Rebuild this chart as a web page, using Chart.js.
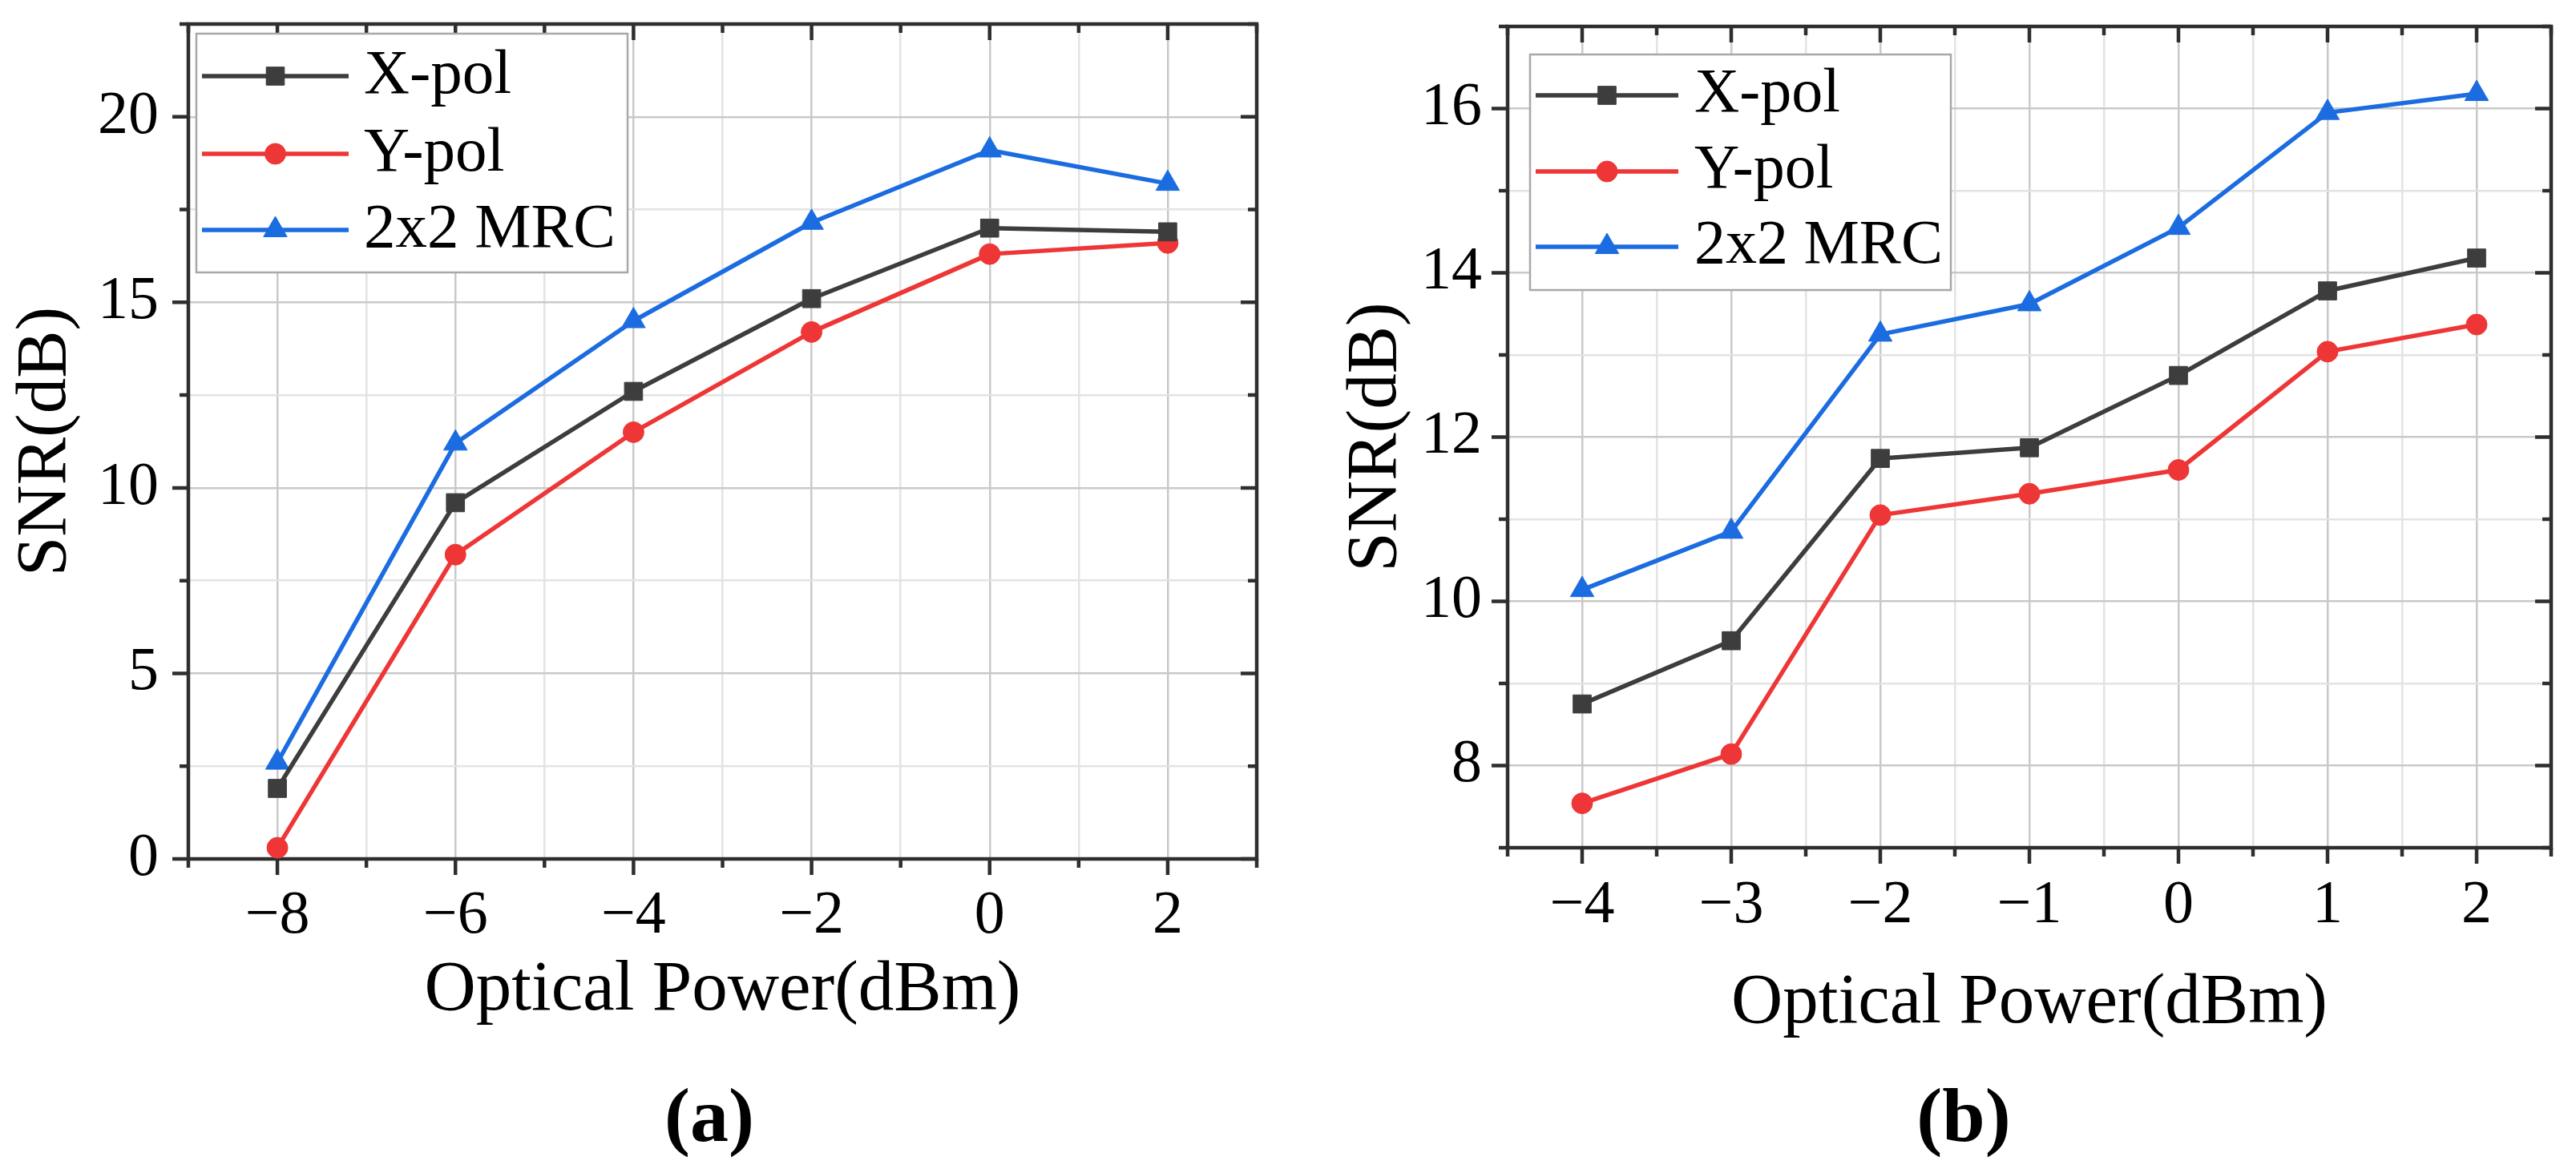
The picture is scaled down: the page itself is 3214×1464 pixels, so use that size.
<!DOCTYPE html>
<html><head><meta charset="utf-8">
<script src="https://cdn.jsdelivr.net/npm/chart.js@4.4.1/dist/chart.umd.min.js"></script>
<style>
html,body{margin:0;padding:0;background:#fff;width:3214px;height:1464px;overflow:hidden}
canvas{position:absolute;top:0}
#ca{left:0}
#cb{left:1607px}
</style></head><body>
<canvas id="ca" width="1607" height="1464"></canvas>
<canvas id="cb" width="1607" height="1464"></canvas>
<script>
// ---------------- data ----------------
const seriesNames = ['X-pol', 'Y-pol', '2x2 MRC'];
const xTitle = 'Optical Power(dBm)';
const yTitle = 'SNR(dB)';

// panel (a)
const powerA = [-8, -6, -4, -2, 0, 2];
const xpolA  = [1.9, 9.6, 12.6, 15.1, 17.0, 16.9];
const ypolA  = [0.3, 8.2, 11.5, 14.2, 16.3, 16.6];
const mrcA   = [2.6, 11.2, 14.5, 17.15, 19.1, 18.2];

// panel (b)
const powerB = [-4, -3, -2, -1, 0, 1, 2];
const xpolB  = [8.75, 9.52, 11.74, 11.87, 12.75, 13.78, 14.18];
const ypolB  = [7.54, 8.14, 11.05, 11.31, 11.6, 13.04, 13.37];
const mrcB   = [10.14, 10.85, 13.25, 13.62, 14.55, 15.95, 16.18];

// ---------------- styles ----------------
const FONT = "'Liberation Serif', 'Times New Roman', serif";
const COLORS = ['#3d3d3d', '#ee3636', '#1b6ce0'];
const STYLES = ['rect', 'circle', 'triangle'];
const RADII = [16, 13, 17];

const layoutA = {
  xMin: -9, xMax: 3, xStep: 1, xMajor: 2,
  yMin: 0, yMax: 22.5, yStep: 2.5, yMajor: 5,
  yAxisW: 235, xAxisH: 392, padTop: 30, padRight: 39,
  yTickPad: 37, xTickPad: 26, yTitlePad: 4.6, xTitlePad: 173.6,
  legend: {x0: 245, y0: 42, x1: 783, y1: 340, rows: [95, 192, 287], lineX0: 252, lineX1: 435, textX: 454, font: 79},
  label: '(a)', labelX: 885, labelY: 1424
};
const layoutB = {
  xMin: -4.5, xMax: 2.5, xStep: 0.5, xMajor: 1,
  yMin: 7, yMax: 17, yStep: 1, yMajor: 2,
  yAxisW: 274, xAxisH: 406, padTop: 33, padRight: 31,
  yTickPad: 32, xTickPad: 27, yTitlePad: 57, xTitlePad: 157.6,
  legend: {x0: 302, y0: 68, x1: 827, y1: 362, rows: [119, 214, 308], lineX0: 309, lineX1: 487, textX: 507, font: 78},
  label: '(b)', labelX: 843, labelY: 1424
};

function isMajor(v, step) {
  const r = v / step;
  return Math.abs(r - Math.round(r)) < 1e-6;
}
function fmt(v, step) {
  if (!isMajor(v, step)) return '';
  const n = Math.round(v * 100) / 100;
  return n < 0 ? '\u2212' + Math.abs(n) : String(n);
}
function gridColor(c, step) {
  if (!c.tick) return '#cccccc';
  return isMajor(c.tick.value, step) ? '#c9c9c9' : '#e3e3e3';
}

function drawMarker(ctx, style, r, x, y, color) {
  ctx.save();
  ctx.fillStyle = color; ctx.strokeStyle = color; ctx.lineWidth = 1;
  ctx.beginPath();
  if (style === 'rect') {
    const s = Math.SQRT1_2 * r;
    ctx.rect(x - s, y - s, 2 * s, 2 * s);
  } else if (style === 'circle') {
    ctx.arc(x, y, r, 0, Math.PI * 2);
  } else {
    let rad = 0;
    ctx.moveTo(x + Math.sin(rad) * r, y - Math.cos(rad) * r);
    rad += 2 * Math.PI / 3;
    ctx.lineTo(x + Math.sin(rad) * r, y - Math.cos(rad) * r);
    rad += 2 * Math.PI / 3;
    ctx.lineTo(x + Math.sin(rad) * r, y - Math.cos(rad) * r);
    ctx.closePath();
  }
  ctx.fill(); ctx.stroke();
  ctx.restore();
}

const framePlugin = {
  id: 'frame',
  beforeDatasetsDraw(chart) {
    const P = chart.options.plugins.frame;
    const {ctx, chartArea: a, scales: {x, y}} = chart;
    ctx.save();
    ctx.strokeStyle = '#2e2e2e';
    ctx.lineWidth = 4.5;
    ctx.beginPath();
    x.ticks.forEach(t => {
      const px = x.getPixelForValue(t.value);
      const len = isMajor(t.value, P.xMajor) ? 20 : 11;
      ctx.moveTo(px, a.bottom); ctx.lineTo(px, a.bottom + len);
      ctx.moveTo(px, a.top); ctx.lineTo(px, a.top + len);
    });
    y.ticks.forEach(t => {
      const py = y.getPixelForValue(t.value);
      const len = isMajor(t.value, P.yMajor) ? 20 : 11;
      ctx.moveTo(a.left, py); ctx.lineTo(a.left - len, py);
      ctx.moveTo(a.right, py); ctx.lineTo(a.right - len, py);
    });
    ctx.stroke();
    ctx.strokeRect(a.left, a.top, a.right - a.left, a.bottom - a.top);
    ctx.restore();
  },
  afterDatasetsDraw(chart) {
    const P = chart.options.plugins.frame;
    const L = P.legend;
    const {ctx} = chart;
    ctx.save();
    ctx.fillStyle = '#ffffff';
    ctx.fillRect(L.x0, L.y0, L.x1 - L.x0, L.y1 - L.y0);
    ctx.strokeStyle = '#a8a8a8';
    ctx.lineWidth = 2.5;
    ctx.strokeRect(L.x0, L.y0, L.x1 - L.x0, L.y1 - L.y0);
    chart.data.datasets.forEach((ds, i) => {
      const yy = L.rows[i];
      ctx.strokeStyle = ds.borderColor;
      ctx.lineWidth = 5.5;
      ctx.beginPath();
      ctx.moveTo(L.lineX0, yy); ctx.lineTo(L.lineX1, yy);
      ctx.stroke();
      drawMarker(ctx, ds.pointStyle, ds.pointRadius, (L.lineX0 + L.lineX1) / 2, yy, ds.borderColor);
      ctx.fillStyle = '#000';
      ctx.font = L.font + 'px ' + FONT;
      ctx.textAlign = 'left';
      ctx.textBaseline = 'middle';
      ctx.fillText(ds.label, L.textX, yy);
    });
    ctx.font = 'bold 96px ' + FONT;
    ctx.textAlign = 'center';
    ctx.textBaseline = 'alphabetic';
    ctx.fillStyle = '#000';
    ctx.fillText(P.label, P.labelX, P.labelY);
    ctx.restore();
  }
};

function makeChart(id, P, xs, sets) {
  return new Chart(document.getElementById(id), {
    type: 'line',
    data: {
      datasets: sets.map((s, i) => ({
        label: seriesNames[i],
        data: xs.map((v, k) => ({x: v, y: s[k]})),
        borderColor: COLORS[i],
        backgroundColor: COLORS[i],
        pointBackgroundColor: COLORS[i],
        pointBorderColor: COLORS[i],
        borderWidth: 5.5,
        pointStyle: STYLES[i],
        pointRadius: RADII[i],
        pointBorderWidth: 1,
        tension: 0,
        clip: false,
        borderJoinStyle: 'round',
        fill: false
      }))
    },
    options: {
      responsive: false,
      devicePixelRatio: 1,
      animation: false,
      events: [],
      layout: {padding: {left: 0, top: P.padTop, right: P.padRight, bottom: 0}},
      plugins: {legend: {display: false}, tooltip: {enabled: false}, frame: P},
      scales: {
        x: {
          type: 'linear', min: P.xMin, max: P.xMax,
          afterFit(s) { s.height = P.xAxisH; s.paddingLeft = 0; s.paddingRight = 0; },
          ticks: {stepSize: P.xStep, autoSkip: false, maxRotation: 0, minRotation: 0,
            padding: P.xTickPad, color: '#000',
            font: {family: FONT, size: 76, lineHeight: 1.2},
            callback: v => fmt(v, P.xMajor)},
          grid: {drawTicks: false, color: c => gridColor(c, P.xMajor), lineWidth: 2.5},
          border: {display: false},
          title: {display: true, text: xTitle, color: '#000',
            font: {family: FONT, size: 89, lineHeight: 1.2},
            padding: {top: 0, bottom: P.xTitlePad}}
        },
        y: {
          type: 'linear', min: P.yMin, max: P.yMax,
          afterFit(s) { s.width = P.yAxisW; s.paddingTop = 0; s.paddingBottom = 0; },
          ticks: {stepSize: P.yStep, autoSkip: false,
            padding: P.yTickPad, color: '#000',
            font: {family: FONT, size: 76, lineHeight: 1.2},
            callback: v => fmt(v, P.yMajor)},
          grid: {drawTicks: false, color: c => gridColor(c, P.yMajor), lineWidth: 2.5},
          border: {display: false},
          title: {display: true, text: yTitle, color: '#000',
            font: {family: FONT, size: 89, lineHeight: 1.2},
            padding: {top: P.yTitlePad, bottom: 0}}
        }
      }
    },
    plugins: [framePlugin]
  });
}

makeChart('ca', layoutA, powerA, [xpolA, ypolA, mrcA]);
makeChart('cb', layoutB, powerB, [xpolB, ypolB, mrcB]);
</script>
</body></html>
